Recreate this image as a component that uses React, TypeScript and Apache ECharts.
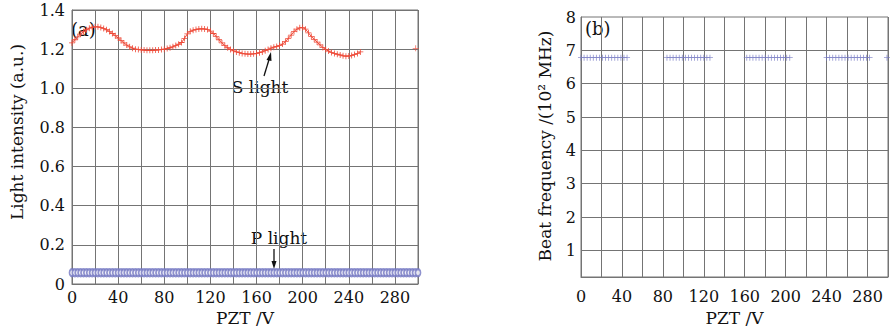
import React, { useEffect, useRef } from 'react';
import * as echarts from 'echarts';

// ---- (a) S light: PZT voltage (V) and light intensity (a.u.)
const sVolts = [
  0, 2.5, 5, 7.5, 10, 12.5, 15, 17.5, 20, 22.5, 25, 27.5, 30, 32.5, 35, 37.5, 40, 42.5, 45, 47.5,
  50, 52.5, 55, 57.5, 60, 62.5, 65, 67.5, 70, 72.5, 75, 77.5, 80, 82.5, 85, 87.5, 90, 92.5, 95, 97.5,
  100, 102.5, 105, 107.5, 110, 112.5, 115, 117.5, 120, 122.5, 125, 127.5, 130, 132.5, 135, 137.5,
  140, 142.5, 145, 147.5, 150, 152.5, 155, 157.5, 160, 162.5, 165, 167.5, 170, 172.5, 175, 177.5,
  180, 182.5, 185, 187.5, 190, 192.5, 195, 197.5, 200, 202.5, 205, 207.5, 210, 212.5, 215, 217.5,
  220, 222.5, 225, 227.5, 230, 232.5, 235, 237.5, 240, 242.5, 245, 247.5, 250,
];
const sIntensity = [
  1.232, 1.248, 1.263, 1.277, 1.289, 1.299, 1.307, 1.312, 1.314, 1.314, 1.311, 1.306, 1.299, 1.29, 1.28, 1.269, 1.257, 1.244, 1.232, 1.221,
  1.212, 1.205, 1.2, 1.198, 1.196, 1.195, 1.194, 1.194, 1.194, 1.195, 1.196, 1.198, 1.2, 1.203, 1.207, 1.212, 1.218, 1.225, 1.234, 1.255,
  1.278, 1.291, 1.297, 1.3, 1.303, 1.304, 1.303, 1.3, 1.292, 1.28, 1.265, 1.248, 1.232, 1.218,
  1.207, 1.198, 1.191, 1.186, 1.182, 1.178, 1.176, 1.175, 1.175, 1.176, 1.178, 1.182, 1.186, 1.192, 1.198, 1.205, 1.21, 1.214,
  1.218, 1.226, 1.238, 1.255, 1.272, 1.29, 1.302, 1.309, 1.31, 1.302, 1.283, 1.265, 1.25, 1.236, 1.222, 1.209,
  1.198, 1.19, 1.183, 1.178, 1.174, 1.17, 1.166, 1.164, 1.165, 1.168, 1.172, 1.178, 1.186,
];
const sLoneVolt = [298];
const sLoneIntensity = [1.204];

// ---- (a) P light
const pVolts = [
  0, 2.5, 5, 7.5, 10, 12.5, 15, 17.5, 20, 22.5, 25, 27.5, 30, 32.5, 35, 37.5, 40, 42.5, 45, 47.5,
  50, 52.5, 55, 57.5, 60, 62.5, 65, 67.5, 70, 72.5, 75, 77.5, 80, 82.5, 85, 87.5, 90, 92.5, 95, 97.5,
  100, 102.5, 105, 107.5, 110, 112.5, 115, 117.5, 120, 122.5, 125, 127.5, 130, 132.5, 135, 137.5,
  140, 142.5, 145, 147.5, 150, 152.5, 155, 157.5, 160, 162.5, 165, 167.5, 170, 172.5, 175, 177.5,
  180, 182.5, 185, 187.5, 190, 192.5, 195, 197.5, 200, 202.5, 205, 207.5, 210, 212.5, 215, 217.5,
  220, 222.5, 225, 227.5, 230, 232.5, 235, 237.5, 240, 242.5, 245, 247.5, 250, 252.5, 255, 257.5,
  260, 262.5, 265, 267.5, 270, 272.5, 275, 277.5, 280, 282.5, 285, 287.5, 290, 292.5, 295, 297.5, 300,
];
const pIntensity = [
  0.058, 0.058, 0.058, 0.058, 0.058, 0.058, 0.058, 0.058, 0.058, 0.058, 0.058, 0.058, 0.058, 0.058, 0.058, 0.058, 0.058, 0.058, 0.058, 0.058,
  0.058, 0.058, 0.058, 0.058, 0.058, 0.058, 0.058, 0.058, 0.058, 0.058, 0.058, 0.058, 0.058, 0.058, 0.058, 0.058, 0.058, 0.058, 0.058, 0.058,
  0.058, 0.058, 0.058, 0.058, 0.058, 0.058, 0.058, 0.058, 0.058, 0.058, 0.058, 0.058, 0.058, 0.058, 0.058, 0.058,
  0.058, 0.058, 0.058, 0.058, 0.058, 0.058, 0.058, 0.058, 0.058, 0.058, 0.058, 0.058, 0.058, 0.058, 0.058, 0.058,
  0.058, 0.058, 0.058, 0.058, 0.058, 0.058, 0.058, 0.058, 0.058, 0.058, 0.058, 0.058, 0.058, 0.058, 0.058, 0.058,
  0.058, 0.058, 0.058, 0.058, 0.058, 0.058, 0.058, 0.058, 0.058, 0.058, 0.058, 0.058, 0.058, 0.058, 0.058, 0.058,
  0.058, 0.058, 0.058, 0.058, 0.058, 0.058, 0.058, 0.058, 0.058, 0.058, 0.058, 0.058, 0.058, 0.058, 0.058, 0.058, 0.058,
];

// ---- (b) Beat frequency (10^2 MHz)
const beatVolts = [
  0, 3, 6, 9, 12, 15, 18, 21, 24, 27, 30, 33, 36, 39, 42, 45,
  84, 87, 90, 93, 96, 99, 102, 105, 108, 111, 114, 117, 120, 123, 126,
  162, 165, 168, 171, 174, 177, 180, 183, 186, 189, 192, 195, 198, 201, 204,
  240, 243, 246, 249, 252, 255, 258, 261, 264, 267, 270, 273, 276, 279, 282,
  299,
];
const beatFreq = [
  6.78, 6.78, 6.78, 6.78, 6.78, 6.78, 6.78, 6.78, 6.78, 6.78, 6.78, 6.78, 6.78, 6.78, 6.78, 6.78,
  6.78, 6.78, 6.78, 6.78, 6.78, 6.78, 6.78, 6.78, 6.78, 6.78, 6.78, 6.78, 6.78, 6.78, 6.78,
  6.78, 6.78, 6.78, 6.78, 6.78, 6.78, 6.78, 6.78, 6.78, 6.78, 6.78, 6.78, 6.78, 6.78, 6.78,
  6.78, 6.78, 6.78, 6.78, 6.78, 6.78, 6.78, 6.78, 6.78, 6.78, 6.78, 6.78, 6.78, 6.78, 6.78,
  6.78,
];

// ---- tick labels
const xTickLabels = [0, 40, 80, 120, 160, 200, 240, 280];
const yTicksB = [1, 2, 3, 4, 5, 6, 7, 8];

const FONT = 'DejaVu Serif';
const GRID_COLOR = '#747474';
const RED = '#ee4a38';
const BLUE = '#7377c2';
const PLUS = 'path://M2.6,0H3.4V2.6H6V3.4H3.4V6H2.6V3.4H0V2.6H2.6Z';

const zip = (xs: number[], ys: number[]) => xs.map((x, i) => [x, ys[i]]);

export default function App() {
  const ref = useRef<HTMLDivElement>(null);

  useEffect(() => {
    document.body.style.margin = '0';
    if (!ref.current) return;
    const chart = echarts.init(ref.current, null, { renderer: 'svg' });

    const xLabelFmt = (v: number) => (xTickLabels.includes(v) ? String(v) : '');
    const axisLabelBase = { fontFamily: FONT, fontSize: 16, color: '#111' };

    chart.setOption({
      animation: false,
      backgroundColor: '#fff',
      textStyle: { fontFamily: FONT },
      grid: [
        { left: 72, top: 10, width: 346, height: 274, show: true, borderColor: GRID_COLOR, borderWidth: 1, backgroundColor: 'transparent' },
        { left: 581, top: 17, width: 307, height: 260, show: true, borderColor: GRID_COLOR, borderWidth: 1, backgroundColor: 'transparent' },
      ],
      xAxis: [
        {
          gridIndex: 0, type: 'value', min: 0, max: 300, interval: 20,
          axisLine: { lineStyle: { color: GRID_COLOR } },
          axisTick: { show: false },
          splitLine: { show: true, lineStyle: { color: GRID_COLOR, width: 1 } },
          axisLabel: { ...axisLabelBase, margin: 5, formatter: xLabelFmt, showMaxLabel: false },
          name: 'PZT /V', nameLocation: 'middle', nameGap: 25,
          nameTextStyle: { fontFamily: FONT, fontSize: 17, color: '#111' },
        },
        {
          gridIndex: 1, type: 'value', min: 0, max: 300, interval: 20,
          axisLine: { lineStyle: { color: GRID_COLOR } },
          axisTick: { show: false },
          splitLine: { show: true, lineStyle: { color: GRID_COLOR, width: 1 } },
          axisLabel: { ...axisLabelBase, margin: 11, formatter: xLabelFmt, showMaxLabel: false },
          name: 'PZT /V', nameLocation: 'middle', nameGap: 32,
          nameTextStyle: { fontFamily: FONT, fontSize: 17, color: '#111' },
        },
      ],
      yAxis: [
        {
          gridIndex: 0, type: 'value', min: 0, max: 1.4, interval: 0.2,
          axisLine: { lineStyle: { color: GRID_COLOR } },
          axisTick: { show: false },
          splitLine: { show: true, lineStyle: { color: GRID_COLOR, width: 1 } },
          axisLabel: { ...axisLabelBase, margin: 7, formatter: (v: number) => (v === 0 ? '0' : v.toFixed(1)) },
        },
        {
          gridIndex: 1, type: 'value', min: 0.2, max: 8,
          axisLine: { lineStyle: { color: GRID_COLOR } },
          axisTick: { show: false },
          splitLine: { show: false },
          axisLabel: { ...axisLabelBase, margin: 5, customValues: yTicksB, showMinLabel: true, showMaxLabel: true },
        },
      ],
      series: [
        {
          name: 'P light', type: 'scatter', xAxisIndex: 0, yAxisIndex: 0,
          data: zip(pVolts, pIntensity),
          symbol: 'emptyCircle', symbolSize: [5, 7],
          itemStyle: { color: BLUE, borderColor: BLUE, borderWidth: 0.8 },
        },
        {
          name: 'S light', type: 'line', xAxisIndex: 0, yAxisIndex: 0,
          data: zip(sVolts, sIntensity),
          symbol: PLUS, symbolSize: 6, showAllSymbol: true,
          lineStyle: { color: RED, width: 1 },
          itemStyle: { color: RED },
        },
        {
          name: 'S light (end)', type: 'scatter', xAxisIndex: 0, yAxisIndex: 0,
          data: zip(sLoneVolt, sLoneIntensity),
          symbol: PLUS, symbolSize: 6,
          itemStyle: { color: RED },
        },
        {
          name: 'Beat frequency', type: 'scatter', xAxisIndex: 1, yAxisIndex: 1,
          data: zip(beatVolts, beatFreq),
          symbol: PLUS, symbolSize: 6,
          itemStyle: { color: BLUE },
          markLine: {
            silent: true, symbol: ['none', 'none'], animation: false,
            label: { show: false },
            lineStyle: { color: GRID_COLOR, type: 'solid', width: 1 },
            data: yTicksB.filter((v) => v < 8).map((v) => ({ yAxis: v })),
          },
        },
      ],
      graphic: [
        {
          type: 'text', x: 17, y: 132, rotation: Math.PI / 2,
          style: { text: 'Light intensity (a.u.)', font: `17px "${FONT}"`, fill: '#111', align: 'center', verticalAlign: 'middle' },
        },
        {
          type: 'text', x: 545, y: 146, rotation: Math.PI / 2,
          style: { text: 'Beat frequency /(10² MHz)', font: `17px "${FONT}"`, fill: '#111', align: 'center', verticalAlign: 'middle' },
        },
        { type: 'text', x: 71, y: 29, style: { text: '(a)', font: `18px "${FONT}"`, fill: '#111', align: 'left', verticalAlign: 'middle' } },
        { type: 'text', x: 585, y: 28, style: { text: '(b)', font: `18px "${FONT}"`, fill: '#111', align: 'left', verticalAlign: 'middle' } },
        { type: 'text', x: 260, y: 87, style: { text: 'S light', font: `17px "${FONT}"`, fill: '#111', align: 'center', verticalAlign: 'middle' } },
        { type: 'line', shape: { x1: 264, y1: 76, x2: 269.5, y2: 58 }, style: { stroke: '#111', lineWidth: 1.3 } },
        { type: 'polygon', shape: { points: [[271, 52], [266.5, 60], [271.5, 61]] }, style: { fill: '#111' } },
        { type: 'text', x: 279, y: 238, style: { text: 'P light', font: `17px "${FONT}"`, fill: '#111', align: 'center', verticalAlign: 'middle' } },
        { type: 'line', shape: { x1: 274, y1: 249, x2: 274, y2: 263 }, style: { stroke: '#111', lineWidth: 1.3 } },
        { type: 'polygon', shape: { points: [[274, 269], [271.5, 261], [276.5, 261]] }, style: { fill: '#111' } },
      ],
    });

    return () => chart.dispose();
  }, []);

  return <div ref={ref} style={{ width: 892, height: 335 }} />;
}
